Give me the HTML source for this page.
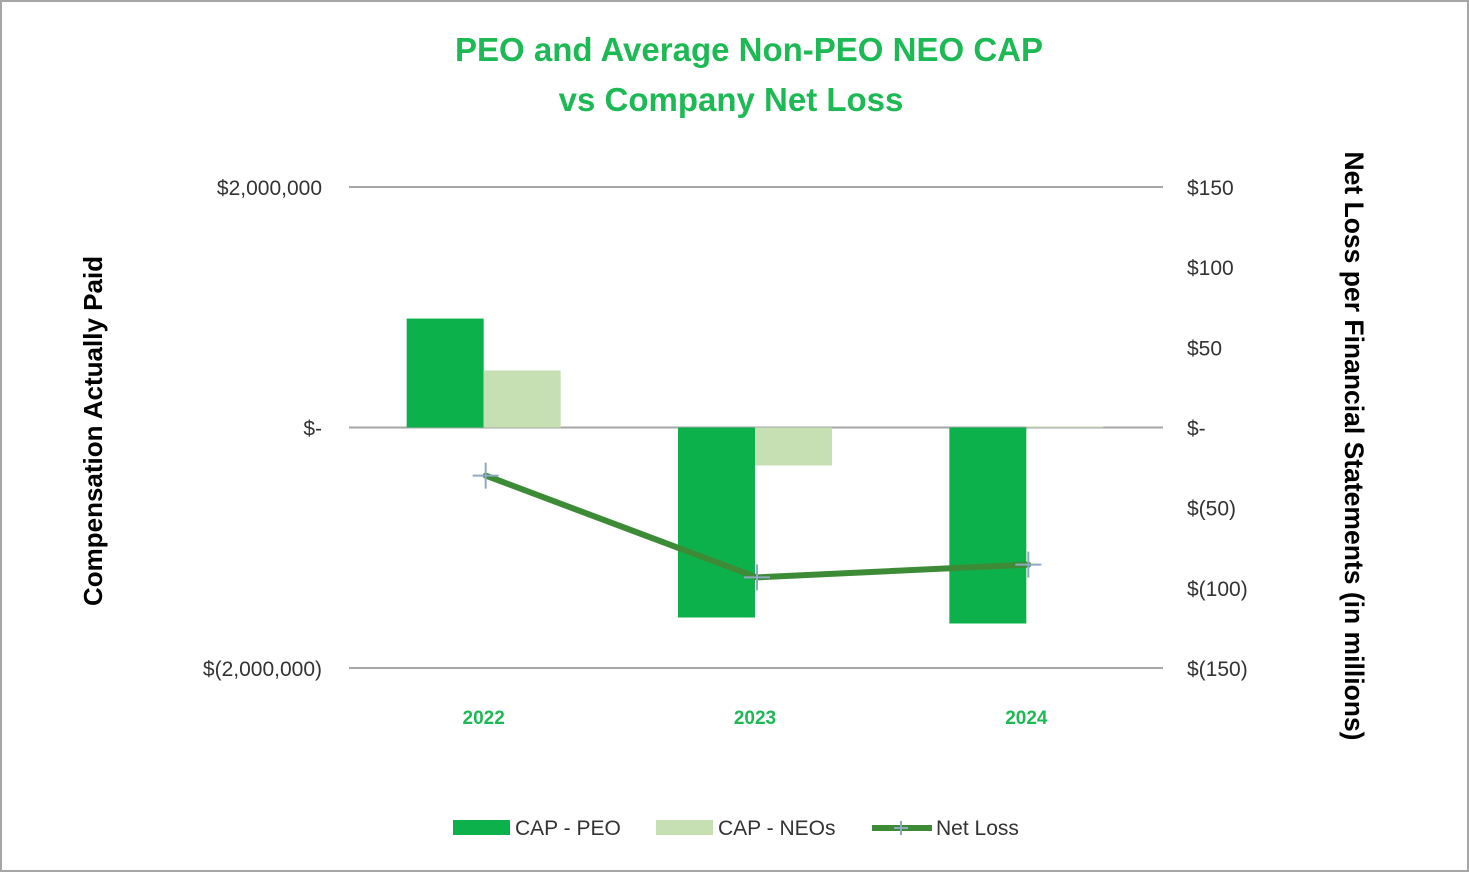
<!DOCTYPE html>
<html><head><meta charset="utf-8"><style>
html,body{margin:0;padding:0;background:#fff}
body{width:1469px;height:872px;overflow:hidden;font-family:"Liberation Sans",sans-serif}
</style></head><body>
<svg id="chart" width="1469" height="872" xmlns="http://www.w3.org/2000/svg" font-family="Liberation Sans, sans-serif">
<rect x="1" y="1" width="1467" height="870" fill="#fff" stroke="#a6a6a6" stroke-width="2"/>
<text x="749" y="61" text-anchor="middle" font-size="33" font-weight="bold" fill="#1db954">PEO and Average Non-PEO NEO CAP</text>
<text x="731" y="111" text-anchor="middle" font-size="33" font-weight="bold" fill="#1db954">vs Company Net Loss</text>
<text transform="translate(102,431) rotate(-90)" text-anchor="middle" font-size="26" font-weight="bold" fill="#000">Compensation Actually Paid</text>
<text transform="translate(1345,446) rotate(90)" text-anchor="middle" font-size="26.5" font-weight="bold" fill="#000">Net Loss per Financial Statements (in millions)</text>
<g id="grid"></g><g id="bars"></g><g id="line"></g><g id="labels"></g>
<g>
<rect x="453" y="820" width="57" height="15" fill="#0db14b"/>
<text x="515" y="835" font-size="21" fill="#333">CAP - PEO</text>
<rect x="656" y="820" width="57" height="15" fill="#c6e0b4"/>
<text x="718" y="835" font-size="21" fill="#333">CAP - NEOs</text>
<line x1="872" y1="828" x2="932" y2="828" stroke="#3d8b37" stroke-width="6"/>
<path d="M894 828h14M901 821v14" stroke="#8ea9c1" stroke-width="2"/>
<text x="936" y="835" font-size="21" fill="#333">Net Loss</text>
</g>
</svg>
<script>
const categories = ["2022","2023","2024"];
const capPeo = [906000, -1580000, -1630000];
const capNeo = [474000, -316000, 8000];
const netLoss = [-30, -93.5, -85.5];
const leftTicks = [2000000, 0, -2000000];
const leftTickLabels = ["$2,000,000","$-","$(2,000,000)"];
const rightTicks = [150,100,50,0,-50,-100,-150];
const rightTickLabels = ["$150","$100","$50","$-","$(50)","$(100)","$(150)"];

const NS="http://www.w3.org/2000/svg";
const plotL=349, plotR=1163, plotT=187, plotB=668;
const yL=v=>plotT+(2000000-v)/4000000*(plotB-plotT);
const yR=v=>plotT+(150-v)/300*(plotB-plotT);
const step=(plotR-plotL)/categories.length;
const xC=i=>plotL+step*(i+0.5)-1;
const barW=77;
function mk(tag,attrs,parent){const e=document.createElementNS(NS,tag);for(const k in attrs)e.setAttribute(k,attrs[k]);document.getElementById(parent).appendChild(e);return e;}

leftTicks.forEach((t,i)=>{
  const g=mk('line',{x1:plotL,x2:plotR,y1:yL(t),y2:yL(t),stroke:'#a6a6a6','stroke-width':2},'grid');
  
  
  const tx=mk('text',{x:322,y:yL(t)+8,'text-anchor':'end','font-size':21,fill:'#333'},'labels');
  tx.textContent=leftTickLabels[i];
  
  
});
rightTicks.forEach((t,i)=>{
  const tx=mk('text',{x:1187,y:yR(t)+8,'font-size':21,fill:'#333'},'labels');
  tx.textContent=rightTickLabels[i];
  
  
});
categories.forEach((c,i)=>{
  const x=xC(i);
  const y0=yL(0);
  const p=mk('rect',{x:x-barW,y:Math.min(y0,yL(capPeo[i])),width:barW,height:Math.abs(yL(capPeo[i])-y0),fill:'#0db14b'},'bars');
  
  
  const n=mk('rect',{x:x,y:Math.min(y0,yL(capNeo[i])),width:barW,height:Math.max(1,Math.abs(yL(capNeo[i])-y0)),fill:'#c6e0b4'},'bars');
  
  
  const tx=mk('text',{x:x,y:724,'text-anchor':'middle','font-size':19,'font-weight':'bold',fill:'#1db954'},'labels');
  tx.textContent=c;
  
  
});
const pts=netLoss.map((v,i)=>[xC(i)+2,yR(v)]);
const pl=mk('polyline',{points:pts.map(p=>p.join(',')).join(' '),fill:'none',stroke:'#3d8b37','stroke-width':6,'stroke-linejoin':'round','stroke-linecap':'round'},'line');


pts.forEach((p,i)=>{
  const m=mk('path',{d:`M${p[0]-13} ${p[1]}h26M${p[0]} ${p[1]-13}v26`,stroke:'#8ea9c1','stroke-width':2},'line');
  
  
});
</script>
</body></html>
